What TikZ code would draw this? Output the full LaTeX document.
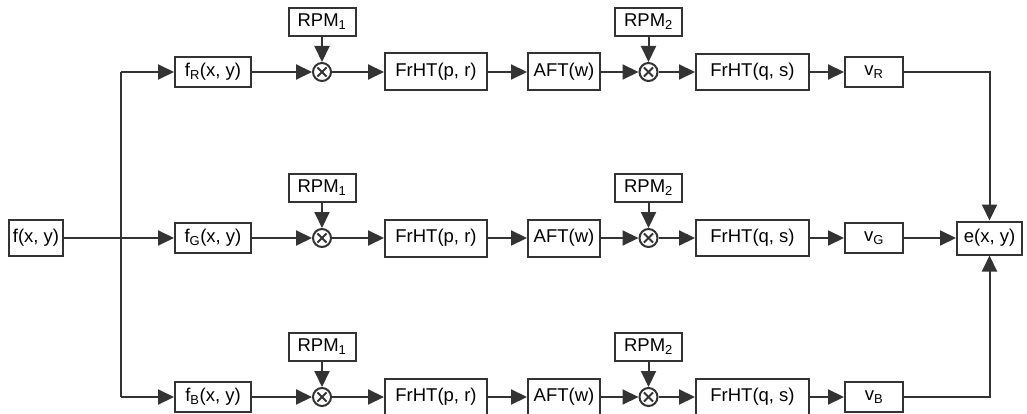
\documentclass[tikz,border=0pt]{standalone}
\usepackage{fontspec}
\setmainfont{Liberation Sans}
\usetikzlibrary{arrows.meta,calc}
\definecolor{lc}{HTML}{333333}
\newcommand\fsz{\fontsize{18.5}{21}\selectfont}
\tikzset{
  box/.style={draw=lc, line width=2pt, inner sep=0pt, font=\fsz, text=black, fill=white},
  mult/.style={draw=lc, circle, line width=2pt, minimum size=18pt, inner sep=0pt, fill=white},
  arr/.style={draw=lc, line width=2pt, -{Triangle[length=16pt,width=15pt]}},
  ln/.style={draw=lc, line width=2pt},
  xl/.style={draw=lc, line width=1.8pt},
}
\begin{document}
\begin{tikzpicture}[x=1pt,y=-1pt]
\useasboundingbox (0,0) rectangle (1027,414);
\node[box, minimum width=54pt, minimum height=36pt] (fxy) at (36,238) {f(x, y)};
\node[box, minimum width=65pt, minimum height=33pt] (e) at (989.5,238) {e(x, y)};
\coordinate (s) at (121,238);
\coordinate (sT) at (121,72);
\coordinate (sB) at (121,397);
\draw[ln] (fxy) -- (s);
\draw[ln] (sT) -- (sB);
\foreach \r/\y in {R/72, G/238, B/397} {
  \node[box, minimum width=76pt, minimum height=30pt] (f\r) at (213,\y) {f\textsubscript{\r}(x, y)};
  \node[mult] (ca\r) at (322,\y) {};
  \node[box, minimum width=67pt, minimum height=28pt] (rpma\r) at (322,\y-50) {RPM\textsubscript{1}};
  \node[box, minimum width=102pt, minimum height=37pt] (ha\r) at (436,\y) {FrHT(p, r)};
  \node[box, minimum width=72pt, minimum height=37pt] (a\r) at (564,\y) {AFT(w)};
  \node[mult] (cb\r) at (648.5,\y) {};
  \node[box, minimum width=67pt, minimum height=28pt] (rpmb\r) at (648.5,\y-50) {RPM\textsubscript{2}};
  \node[box, minimum width=113pt, minimum height=36pt] (hb\r) at (752.5,\y) {FrHT(q, s)};
  \node[box, minimum width=58pt, minimum height=30pt] (v\r) at (874,\y) {v\textsubscript{\r}};
  \foreach \c in {ca\r, cb\r} {
    \draw[xl] ([shift={(45:6.5)}]\c.center) -- ([shift={(225:6.5)}]\c.center);
    \draw[xl] ([shift={(135:6.5)}]\c.center) -- ([shift={(315:6.5)}]\c.center);
  }
  \draw[arr] (f\r) -- (ca\r);
  \draw[arr] (rpma\r) -- (ca\r);
  \draw[arr] (ca\r) -- (ha\r);
  \draw[arr] (ha\r) -- (a\r);
  \draw[arr] (a\r) -- (cb\r);
  \draw[arr] (rpmb\r) -- (cb\r);
  \draw[arr] (cb\r) -- (hb\r);
  \draw[arr] (hb\r) -- (v\r);
}
\draw[arr] (sT) -- (fR);
\draw[arr] (s) -- (fG);
\draw[arr] (sB) -- (fB);
\draw[arr] (vR.east) -| (e.north);
\draw[arr] (vG.east) -- (e.west);
\draw[arr] (vB.east) -| (e.south);
\end{tikzpicture}
\end{document}
